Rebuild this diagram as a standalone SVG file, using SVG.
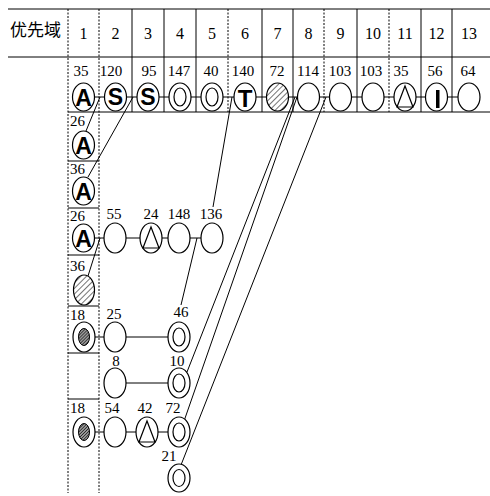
<svg xmlns="http://www.w3.org/2000/svg" width="490" height="496" viewBox="0 0 490 496">
<defs>
<pattern id="hatch" patternUnits="userSpaceOnUse" width="4" height="4" patternTransform="rotate(45)">
<rect width="4" height="4" fill="#fff"/>
<line x1="0" y1="0" x2="0" y2="4" stroke="#000" stroke-width="1.1"/>
</pattern>
<pattern id="dense" patternUnits="userSpaceOnUse" width="2.2" height="2.2" patternTransform="rotate(45)">
<rect width="2.2" height="2.2" fill="#999"/>
<line x1="0" y1="0" x2="0" y2="2.2" stroke="#000" stroke-width="1.1"/>
</pattern>
</defs>
<style>
.g{stroke:#000;stroke-width:1;fill:none}
.d{stroke:#000;stroke-width:1;fill:none;stroke-dasharray:2 1.5}
.c{stroke:#000;stroke-width:1;fill:none}
.e{fill:#fff;stroke:#000;stroke-width:1.2}
.h{fill:url(#hatch);stroke:#000;stroke-width:1.2}
.k{fill:url(#dense);stroke:#000;stroke-width:1}
.i{fill:none;stroke:#000;stroke-width:1.2}
.t{font-family:"Liberation Serif","Times New Roman",serif;font-size:15px;fill:#000}
.hd{font-family:"Liberation Serif","Times New Roman",serif;font-size:16px;fill:#000;text-anchor:middle}
.m{text-anchor:middle}
.L{font-family:"Liberation Sans",Arial,sans-serif;font-weight:bold;font-size:23px;fill:#000;text-anchor:middle}
.cjk{font-family:"Noto Sans CJK SC","Noto Sans CJK JP",sans-serif;font-size:17px;fill:#000}
</style>
<rect width="490" height="496" fill="#fff"/>

<g id="grid">
<line class="g" x1="8" y1="9" x2="490" y2="9"/>
<line class="g" x1="8" y1="57" x2="490" y2="57"/>
<line class="g" x1="68" y1="112" x2="490" y2="112"/>
<line class="d" x1="68" y1="9" x2="68" y2="493"/>
<line class="d" x1="99" y1="9" x2="99" y2="493"/>
<line class="g" x1="132" y1="9" x2="132" y2="112"/>
<line class="g" x1="164" y1="9" x2="164" y2="112"/>
<line class="g" x1="196" y1="9" x2="196" y2="112"/>
<line class="d" x1="228" y1="9" x2="228" y2="112"/>
<line class="g" x1="262" y1="9" x2="262" y2="112"/>
<line class="g" x1="293" y1="9" x2="293" y2="112"/>
<line class="d" x1="324" y1="9" x2="324" y2="112"/>
<line class="g" x1="357" y1="9" x2="357" y2="112"/>
<line class="d" x1="389" y1="9" x2="389" y2="112"/>
<line class="g" x1="421" y1="9" x2="421" y2="112"/>
<line class="g" x1="452" y1="9" x2="452" y2="112"/>
<line class="g" x1="68" y1="161" x2="99" y2="161"/>
<line class="g" x1="68" y1="208" x2="99" y2="208"/>
<line class="g" x1="68" y1="255" x2="99" y2="255"/>
<line class="g" x1="68" y1="306" x2="99" y2="306"/>
<line class="g" x1="68" y1="353" x2="99" y2="353"/>
<line class="g" x1="68" y1="399" x2="99" y2="399"/>
</g>

<g id="header">
<text class="cjk" x="10" y="36">优先域</text>
<text class="hd" x="83.5" y="39">1</text>
<text class="hd" x="115.5" y="39">2</text>
<text class="hd" x="148" y="39">3</text>
<text class="hd" x="180" y="39">4</text>
<text class="hd" x="212" y="39">5</text>
<text class="hd" x="245" y="39">6</text>
<text class="hd" x="277.5" y="39">7</text>
<text class="hd" x="308.5" y="39">8</text>
<text class="hd" x="340.5" y="39">9</text>
<text class="hd" x="373" y="39">10</text>
<text class="hd" x="405" y="39">11</text>
<text class="hd" x="436.5" y="39">12</text>
<text class="hd" x="469" y="39">13</text>
</g>

<g id="connectors">
<line class="c" x1="83.5" y1="97" x2="469" y2="97"/>
<line class="c" x1="83.5" y1="238" x2="212" y2="238"/>
<line class="c" x1="84" y1="337" x2="179" y2="337"/>
<line class="c" x1="115" y1="383" x2="179" y2="383"/>
<line class="c" x1="84" y1="432" x2="179" y2="432"/>
<line class="c" x1="100" y1="97" x2="86" y2="131"/>
<line class="c" x1="133" y1="97" x2="88" y2="177"/>
<line class="c" x1="100" y1="238" x2="88" y2="276"/>
<line class="c" x1="232" y1="97" x2="213" y2="207"/>
<line class="c" x1="197" y1="238" x2="181" y2="305"/>
<line class="c" x1="295" y1="97" x2="187" y2="372"/>
<line class="c" x1="297" y1="97" x2="183" y2="424"/>
<line class="c" x1="326" y1="97" x2="181" y2="465"/>
</g>

<g id="n1_1"><text class="t m" x="81" y="76">35</text><ellipse class="e" cx="83.5" cy="97" rx="11" ry="14"/><text class="L" x="83.5" y="106">A</text></g>
<g id="n1_2"><text class="t m" x="111" y="76">120</text><ellipse class="e" cx="115.5" cy="97" rx="11" ry="14"/><text class="L" x="115.5" y="105">S</text></g>
<g id="n1_3"><text class="t m" x="149" y="76">95</text><ellipse class="e" cx="148" cy="97" rx="11" ry="14"/><text class="L" x="148" y="105">S</text></g>
<g id="n1_4"><text class="t m" x="179" y="76">147</text><ellipse class="e" cx="180" cy="97" rx="11" ry="14"/><ellipse class="i" cx="180" cy="97" rx="6" ry="9"/></g>
<g id="n1_5"><text class="t m" x="211" y="76">40</text><ellipse class="e" cx="212" cy="97" rx="11" ry="14"/><ellipse class="i" cx="212" cy="97" rx="6" ry="9"/></g>
<g id="n1_6"><text class="t m" x="243" y="76">140</text><ellipse class="e" cx="245" cy="97" rx="11" ry="14"/><text class="L" x="245" y="107" style="font-size:24px">T</text></g>
<g id="n1_7"><text class="t m" x="277" y="76">72</text><ellipse class="h" cx="277.5" cy="97" rx="11" ry="14"/></g>
<g id="n1_8"><text class="t m" x="308" y="76">114</text><ellipse class="e" cx="308.5" cy="97" rx="11" ry="14"/></g>
<g id="n1_9"><text class="t m" x="340" y="76">103</text><ellipse class="e" cx="340.5" cy="97" rx="11" ry="14"/></g>
<g id="n1_10"><text class="t m" x="371" y="76">103</text><ellipse class="e" cx="373" cy="97" rx="11" ry="14"/></g>
<g id="n1_11"><text class="t m" x="401" y="76">35</text><ellipse class="e" cx="405" cy="97" rx="11" ry="14"/><polygon class="i" points="405,86 397,107 413,107"/></g>
<g id="n1_12"><text class="t m" x="435" y="76">56</text><ellipse class="e" cx="436.5" cy="97" rx="11" ry="14"/><rect x="436" y="90" width="3.5" height="18" fill="#000"/></g>
<g id="n1_13"><text class="t m" x="468" y="76">64</text><ellipse class="e" cx="469" cy="97" rx="11" ry="14"/></g>

<g id="c2"><text class="t" x="70" y="126">26</text><ellipse class="e" cx="83.5" cy="145" rx="11" ry="14"/><text class="L" x="83.5" y="154">A</text></g>
<g id="c3"><text class="t" x="70" y="174">36</text><ellipse class="e" cx="83.5" cy="191" rx="11" ry="14"/><text class="L" x="83.5" y="200">A</text></g>
<g id="c4"><text class="t" x="70" y="221">26</text><ellipse class="e" cx="83.5" cy="238" rx="11" ry="14"/><text class="L" x="83.5" y="247">A</text></g>
<g id="c5"><text class="t" x="70" y="271">36</text><ellipse class="h" cx="84" cy="290" rx="10.5" ry="15"/></g>
<g id="c6"><text class="t" x="70" y="320">18</text><ellipse class="e" cx="84" cy="337" rx="11" ry="15"/><ellipse class="k" cx="84" cy="337" rx="5.5" ry="8.5"/></g>
<g id="c8"><text class="t" x="70" y="413">18</text><ellipse class="e" cx="84" cy="432" rx="11" ry="15"/><ellipse class="k" cx="84" cy="432" rx="5.5" ry="8.5"/></g>

<g id="n55"><text class="t m" x="114" y="219">55</text><ellipse class="e" cx="115" cy="238" rx="11" ry="15"/></g>
<g id="n24"><text class="t m" x="151" y="219">24</text><ellipse class="e" cx="151" cy="238" rx="11" ry="15"/><polygon class="i" points="151,227 143,248 159,248"/></g>
<g id="n148"><text class="t m" x="179" y="219">148</text><ellipse class="e" cx="179" cy="238" rx="11" ry="15"/></g>
<g id="n136"><text class="t m" x="211" y="219">136</text><ellipse class="e" cx="212" cy="238" rx="11" ry="15"/></g>

<g id="n25"><text class="t m" x="114" y="319">25</text><ellipse class="e" cx="115" cy="337" rx="11" ry="15"/></g>
<g id="n46"><text class="t m" x="181" y="317">46</text><ellipse class="e" cx="179" cy="337" rx="11" ry="15"/><ellipse class="i" cx="179" cy="337" rx="6" ry="9"/></g>

<g id="n8"><text class="t m" x="116" y="366">8</text><ellipse class="e" cx="115" cy="383" rx="11" ry="15"/></g>
<g id="n10"><text class="t m" x="177" y="366">10</text><ellipse class="e" cx="179" cy="383" rx="11" ry="15"/><ellipse class="i" cx="179" cy="383" rx="6" ry="9"/></g>

<g id="n54"><text class="t m" x="112" y="413">54</text><ellipse class="e" cx="115" cy="432" rx="11" ry="15"/></g>
<g id="n42"><text class="t m" x="145" y="413">42</text><ellipse class="e" cx="147" cy="432" rx="11" ry="15"/><polygon class="i" points="147,421 139,442 155,442"/></g>
<g id="n72"><text class="t m" x="173" y="413">72</text><ellipse class="e" cx="179" cy="432" rx="11" ry="15"/><ellipse class="i" cx="179" cy="432" rx="6" ry="9"/></g>
<g id="n21"><text class="t m" x="169" y="461">21</text><ellipse class="e" cx="179" cy="478" rx="11" ry="14"/><ellipse class="i" cx="179" cy="478" rx="6" ry="8.5"/></g>
</svg>
